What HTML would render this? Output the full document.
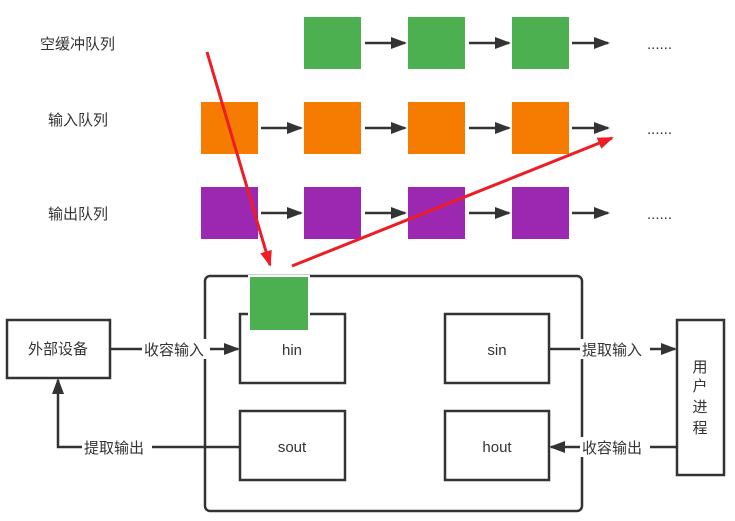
<!DOCTYPE html>
<html><head><meta charset="utf-8"><style>body{margin:0;background:#fff}svg{display:block}text{font-family:"Liberation Sans","Noto Sans CJK SC",sans-serif;font-size:15px;fill:#333}</style></head><body>
<svg width="735" height="521" viewBox="0 0 735 521" xmlns="http://www.w3.org/2000/svg">
<defs>
<marker id="a" markerWidth="10" markerHeight="8" refX="10" refY="4" orient="auto" markerUnits="userSpaceOnUse"><path d="M0,0 L10,4 L0,8 Z" fill="#333"/></marker>
<marker id="b" markerWidth="16" markerHeight="12" refX="14" refY="6" orient="auto" markerUnits="userSpaceOnUse"><path d="M0,0 L16,6 L0,12 Z" fill="#ee1c25"/></marker>
<marker id="c" markerWidth="16" markerHeight="12" refX="14" refY="6" orient="auto" markerUnits="userSpaceOnUse"><path d="M0,0 L16,6 L0,12 Z" fill="#333"/></marker>
</defs>
<text x="40" y="49">空缓冲队列</text>
<text x="48" y="125">输入队列</text>
<text x="48" y="219">输出队列</text>
<g fill="#4caf50"><rect x="304" y="17" width="57" height="52"/><rect x="408" y="17" width="57" height="52"/><rect x="512" y="17" width="57" height="52"/></g>
<g fill="#f57c00"><rect x="201" y="102" width="57" height="52"/><rect x="304" y="102" width="57" height="52"/><rect x="408" y="102" width="57" height="52"/><rect x="512" y="102" width="57" height="52"/></g>
<g fill="#9c27b0"><rect x="201" y="187" width="57" height="52"/><rect x="304" y="187" width="57" height="52"/><rect x="408" y="187" width="57" height="52"/><rect x="512" y="187" width="57" height="52"/></g>
<g stroke="#333" stroke-width="2.5" marker-end="url(#c)">
<line x1="365" y1="43" x2="405" y2="43"/><line x1="469" y1="43" x2="509" y2="43"/><line x1="572" y1="43" x2="608" y2="43"/>
<line x1="261" y1="128" x2="301" y2="128"/><line x1="365" y1="128" x2="405" y2="128"/><line x1="469" y1="128" x2="509" y2="128"/><line x1="572" y1="128" x2="608" y2="128"/>
<line x1="261" y1="213" x2="301" y2="213"/><line x1="365" y1="213" x2="405" y2="213"/><line x1="469" y1="213" x2="509" y2="213"/><line x1="572" y1="213" x2="608" y2="213"/>
</g>
<text x="647" y="49" font-size="12">......</text>
<text x="647" y="134" font-size="12">......</text>
<text x="647" y="219" font-size="12">......</text>
<rect x="205" y="276" width="377" height="235" rx="5" fill="none" stroke="#333" stroke-width="2.5"/>
<g fill="#fff" stroke="#333" stroke-width="2.5">
<rect x="240" y="314" width="105" height="69"/><rect x="445" y="314" width="104" height="69"/>
<rect x="240" y="411" width="105" height="69"/><rect x="445" y="411" width="104" height="69"/>
<rect x="7" y="320" width="103" height="58"/><rect x="677" y="320" width="47" height="155"/>
</g>
<rect x="249" y="276" width="60" height="55" fill="#4caf50" stroke="#fff" stroke-width="2"/>
<text x="292" y="355" text-anchor="middle">hin</text>
<text x="497" y="355" text-anchor="middle">sin</text>
<text x="292" y="452" text-anchor="middle">sout</text>
<text x="497" y="452" text-anchor="middle">hout</text>
<text x="58" y="354" text-anchor="middle">外部设备</text>
<text x="700" y="372" text-anchor="middle">用</text><text x="700" y="391" text-anchor="middle">户</text><text x="700" y="412" text-anchor="middle">进</text><text x="700" y="433" text-anchor="middle">程</text>
<g stroke="#333" stroke-width="2.5" fill="none">
<line x1="110" y1="349" x2="238" y2="349" marker-end="url(#c)"/>
<polyline points="240,447 58,447 58,380" marker-end="url(#c)"/>
<line x1="549" y1="349" x2="675" y2="349" marker-end="url(#c)"/>
<line x1="677" y1="447" x2="551" y2="447" marker-end="url(#c)"/>
</g>
<g fill="#fff"><rect x="142" y="339" width="68" height="20"/><rect x="82" y="437" width="70" height="20"/><rect x="580" y="339" width="70" height="20"/><rect x="580" y="437" width="70" height="20"/></g>
<text x="144" y="355">收容输入</text>
<text x="84" y="453">提取输出</text>
<text x="582" y="355">提取输入</text>
<text x="582" y="453">收容输出</text>
<g stroke="#ee1c25" stroke-width="3" fill="none">
<line x1="207" y1="52" x2="270" y2="265" marker-end="url(#b)"/>
<line x1="292" y1="266" x2="612" y2="138" marker-end="url(#b)"/>
</g>
</svg>
</body></html>
